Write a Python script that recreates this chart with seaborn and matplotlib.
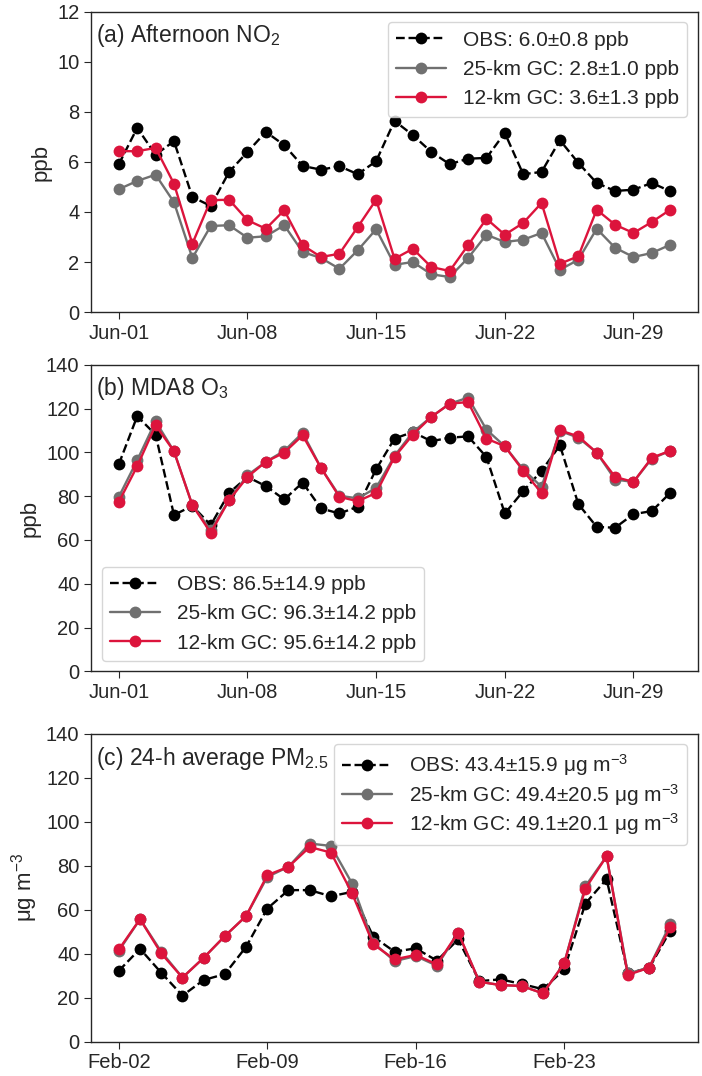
import numpy as np
import pandas as pd
import matplotlib
matplotlib.use('Agg')
import matplotlib.pyplot as plt
import matplotlib.dates as mdates
import seaborn as sns

# ---- data ----
days_jun = pd.date_range('2019-06-01', '2019-07-01', freq='D')
days_feb = pd.date_range('2019-02-02', '2019-02-28', freq='D')

no2_obs = [5.91, 7.36, 6.29, 6.83, 4.60, 4.24, 5.60, 6.40, 7.20, 6.67, 5.84, 5.69, 5.83, 5.51, 6.03,
           7.64, 7.07, 6.40, 5.91, 6.13, 6.16, 7.16, 5.51, 5.60, 6.87, 5.96, 5.16, 4.84, 4.89, 5.16, 4.83]
no2_25km = [4.91, 5.24, 5.49, 4.39, 2.16, 3.44, 3.47, 2.97, 3.03, 3.47, 2.40, 2.16, 1.73, 2.47, 3.31,
            1.89, 2.00, 1.51, 1.40, 2.16, 3.09, 2.80, 2.89, 3.16, 1.69, 2.09, 3.33, 2.57, 2.20, 2.36, 2.69]
no2_12km = [6.43, 6.43, 6.56, 5.13, 2.73, 4.47, 4.49, 3.67, 3.33, 4.07, 2.67, 2.20, 2.33, 3.40, 4.49,
            2.13, 2.53, 1.80, 1.64, 2.67, 3.73, 3.09, 3.56, 4.36, 1.93, 2.23, 4.09, 3.49, 3.16, 3.60, 4.09]

o3_obs = [94.6, 116.5, 108.1, 71.4, 75.6, 66.8, 81.5, 88.8, 84.6, 78.5, 86.2, 74.4, 72.1, 75.2, 92.3,
          106.3, 109.3, 105.1, 106.7, 107.3, 97.9, 72.1, 82.3, 91.6, 103.2, 76.4, 66.0, 65.6, 71.8, 73.2, 81.5]
o3_25km = [79.7, 96.4, 114.2, 100.5, 75.9, 64.5, 78.4, 89.6, 95.7, 100.7, 108.9, 92.9, 80.2, 79.0, 83.8,
           98.4, 109.3, 116.2, 122.2, 125.0, 110.4, 102.8, 92.2, 84.3, 109.8, 106.7, 99.9, 87.6, 86.5, 97.2, 100.7]
o3_12km = [77.4, 93.7, 112.4, 100.5, 75.9, 63.3, 78.2, 88.8, 95.7, 99.9, 107.8, 92.9, 79.7, 77.7, 81.5,
           97.9, 108.1, 116.2, 122.2, 123.0, 106.3, 102.8, 91.6, 81.5, 110.1, 107.3, 99.9, 88.8, 86.5, 97.6, 100.7]

pm_obs = [32.2, 42.2, 31.3, 20.9, 28.0, 30.7, 43.1, 60.5, 68.9, 68.9, 66.1, 68.1, 47.7, 40.9,
          42.4, 36.8, 46.5, 27.5, 28.3, 26.2, 23.8, 32.8, 62.8, 73.9, 31.3, 33.3, 50.4]
pm_25km = [41.3, 55.7, 40.9, 29.1, 38.1, 48.0, 57.1, 74.9, 79.5, 90.1, 89.0, 71.9, 45.0, 36.6,
           38.9, 34.5, 49.4, 27.2, 25.7, 25.3, 21.9, 35.6, 70.7, 84.3, 31.0, 33.6, 53.4]
pm_12km = [41.9, 55.7, 40.1, 29.1, 38.1, 48.0, 57.1, 75.7, 79.5, 88.5, 86.0, 67.4, 44.2, 37.4,
           39.4, 35.1, 49.6, 27.2, 25.7, 25.3, 21.9, 35.6, 69.6, 84.3, 30.3, 33.6, 51.9]

no2_labels = ['OBS: 6.0\u00b10.8 ppb', '25-km GC: 2.8\u00b11.0 ppb', '12-km GC: 3.6\u00b11.3 ppb']
o3_labels = ['OBS: 86.5\u00b114.9 ppb', '25-km GC: 96.3\u00b114.2 ppb', '12-km GC: 95.6\u00b114.2 ppb']
pm_labels = ['OBS: 43.4\u00b115.9 \u03bcg m$^{-3}$', '25-km GC: 49.4\u00b120.5 \u03bcg m$^{-3}$',
             '12-km GC: 49.1\u00b120.1 \u03bcg m$^{-3}$']

# ---- style ----
sns.set_style('ticks')
plt.rcParams['font.family'] = ['Liberation Sans', 'DejaVu Sans']
plt.rcParams['mathtext.fontset'] = 'custom'
plt.rcParams['mathtext.rm'] = 'Liberation Sans'
plt.rcParams['mathtext.it'] = 'Liberation Sans:italic'
plt.rcParams['axes.linewidth'] = 1.0

FS_TICK = 14.5
FS_BIG = 16
FS_LEG = 15

colors = ['black', '#707070', '#dc143c']
styles = ['--', '-', '-']

fig = plt.figure(figsize=(7.02, 10.76), dpi=100)
ax_a = fig.add_axes([0.130, 0.710, 0.864, 0.279])
ax_b = fig.add_axes([0.130, 0.376, 0.864, 0.285])
ax_c = fig.add_axes([0.130, 0.032, 0.864, 0.286])


def draw(ax, x, series, labels, title, ylabel, ymax, loc, nticks, spacing):
    for y, lab, c, ls in zip(series, labels, colors, styles):
        df = pd.DataFrame({'date': x, 'val': y})
        sns.lineplot(data=df, x='date', y='val', ax=ax, color=c, linestyle=ls,
                     marker='o', markersize=8.5, markeredgewidth=0, linewidth=1.7, label=lab)
    ax.set_ylim(0, ymax)
    ax.set_xlabel('')
    ax.set_ylabel(ylabel, fontsize=FS_BIG)
    ax.set_xticks(pd.date_range(x[0], periods=nticks, freq='7D'))
    ax.xaxis.set_major_formatter(mdates.DateFormatter('%b-%d'))
    ax.tick_params(labelsize=FS_TICK, length=5)
    ax.text(0.007, 0.965, title, transform=ax.transAxes, va='top', ha='left', fontsize=16.5)
    ax.legend(loc=loc, fontsize=FS_LEG, handlelength=2.4, borderaxespad=0.5,
              labelspacing=spacing)


draw(ax_a, days_jun, [no2_obs, no2_25km, no2_12km], no2_labels,
     '(a) Afternoon NO$_2$', 'ppb', 12, 'upper right', 5, 0.5)
draw(ax_b, days_jun, [o3_obs, o3_25km, o3_12km], o3_labels,
     '(b) MDA8 O$_3$', 'ppb', 140, 'lower left', 5, 0.5)
draw(ax_c, days_feb, [pm_obs, pm_25km, pm_12km], pm_labels,
     '(c) 24-h average PM$_{2.5}$', '\u03bcg m$^{-3}$', 140, 'upper right', 4, 0.15)

ax_a.set_yticks(np.arange(0, 13, 2))
ax_b.set_yticks(np.arange(0, 141, 20))
ax_c.set_yticks(np.arange(0, 141, 20))

fig.savefig('out.png', dpi=100)
